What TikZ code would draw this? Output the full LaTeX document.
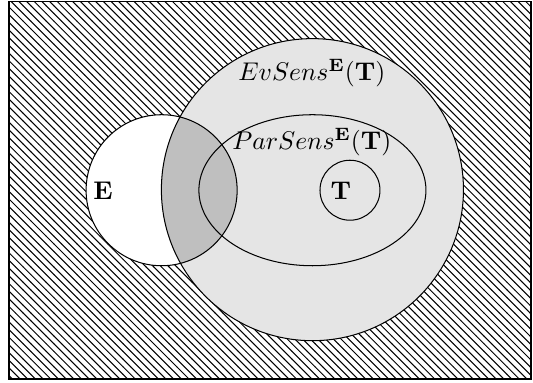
\documentclass[tikz,border=0pt]{standalone}
\usepackage{tikz}
\usepackage{xcolor}
\usetikzlibrary{patterns}
\definecolor{evfill}{gray}{0.90}
\definecolor{capfill}{gray}{0.75}

\begin{document}
\begin{tikzpicture}[scale=0.78125,line width=0.4pt]

%% ── frame / bounding box ─────────────────────────────────────────────────────
\useasboundingbox (0,0) rectangle (9.366,6.713);
\fill[pattern=north west lines] (0.158,0.053) rectangle (9.331,6.678);
\draw (0.158,0.053) rectangle (9.331,6.678);

%% ── fills: E, EvSens, and their overlap ──────────────────────────────────────
\fill[white] (2.84,3.37) circle (1.327cm);
\fill[evfill] (5.49,3.38) circle (2.654cm);
\begin{scope}
  \clip (2.84,3.37) circle (1.327cm);
  \fill[capfill] (5.49,3.38) circle (2.654cm);
\end{scope}

%% ── outlines ─────────────────────────────────────────────────────────────────
\draw (2.84,3.37) circle (1.327cm);
\draw (5.49,3.38) circle (2.654cm);
\draw (5.49,3.37) ellipse (1.995cm and 1.327cm);
\draw (6.15,3.37) circle (0.527cm);

%% ── labels ───────────────────────────────────────────────────────────────────
\node (evlabel) at (5.48,5.43) {$EvSens^{\mathbf{E}}(\mathbf{T})$};
\node (parlabel) at (5.48,4.22) {$ParSens^{\mathbf{E}}(\mathbf{T})$};
\node (elabel) at (1.81,3.37) {$\mathbf{E}$};
\node (tlabel) at (5.99,3.37) {$\mathbf{T}$};

\end{tikzpicture}
\end{document}
